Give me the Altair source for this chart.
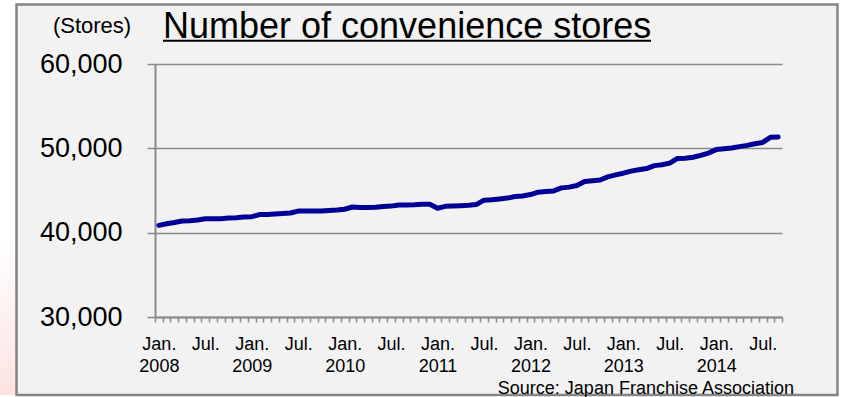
import altair as alt
import pandas as pd

years = [2008, 2009, 2010, 2011, 2012, 2013, 2014]
v2008 = [40870, 41050, 41200, 41380, 41420, 41500, 41650, 41660, 41660, 41740, 41760, 41850]
v2009 = [41900, 42140, 42160, 42210, 42260, 42330, 42560, 42560, 42570, 42580, 42640, 42680]
v2010 = [42780, 43040, 42980, 42990, 43010, 43090, 43150, 43290, 43290, 43310, 43360, 43370]
v2011 = [42900, 43120, 43150, 43200, 43250, 43330, 43850, 43900, 44000, 44100, 44280, 44350]
v2012 = [44520, 44800, 44880, 44950, 45310, 45400, 45600, 46070, 46150, 46250, 46620, 46850]
v2013 = [47050, 47300, 47450, 47600, 47950, 48050, 48250, 48800, 48830, 48950, 49160, 49440]
v2014 = [49850, 49950, 50030, 50200, 50350, 50550, 50700, 51300, 51350]
series = [v2008, v2009, v2010, v2011, v2012, v2013, v2014]

title_text = "Number of convenience stores"
unit_text = "(Stores)"
source_text = "Source: Japan Franchise Association"
y_ticks = [30000, 40000, 50000, 60000]

rows = []
for yr, vals in zip(years, series):
    for m, v in enumerate(vals):
        rows.append({"month": f"{yr}-{m + 1:02d}", "stores": v})
df = pd.DataFrame(rows)
order = list(df["month"])

FONT = "Liberation Sans, Arial, sans-serif"
GRID = "#8a8a8a"

label_expr = (
    "substring(datum.value,5,7)=='01' ? ['Jan.', substring(datum.value,0,4)] : "
    "(substring(datum.value,5,7)=='07' ? 'Jul.' : '')"
)

x_enc = alt.X(
    "month:O",
    sort=order,
    scale=alt.Scale(type="band", paddingInner=0, paddingOuter=0),
    axis=alt.Axis(
        title=None,
        labelExpr=label_expr,
        labelAngle=0,
        labelOverlap=False,
        labelBound=False,
        labelFont=FONT,
        labelFontSize=18,
        labelColor="#000000",
        labelLineHeight=22,
        labelPadding=13,
        labelBaseline="top",
        tickBand="extent",
        tickSize=5,
        tickColor=GRID,
        tickWidth=1.5,
        domainColor=GRID,
        domainWidth=2,
        grid=False,
    ),
)

y_enc = alt.Y(
    "stores:Q",
    scale=alt.Scale(domain=[30000, 60000], nice=False, zero=False),
    axis=alt.Axis(
        title=None,
        values=y_ticks,
        format=",d",
        labelFont=FONT,
        labelFontSize=27,
        labelColor="#000000",
        labelPadding=25,
        tickSize=8,
        tickColor=GRID,
        tickWidth=1.5,
        domainColor=GRID,
        domainWidth=2,
        grid=True,
        gridColor=GRID,
        gridWidth=1.5,
    ),
)

one = alt.Data(values=[{"a": 1}])

left_strip = alt.Chart(one).mark_rect(
    color=alt.Gradient(
        gradient="linear",
        stops=[
            alt.GradientStop(offset=0, color="#ffffff"),
            alt.GradientStop(offset=0.6, color="#ffffff"),
            alt.GradientStop(offset=1, color="#fde2e2"),
        ],
        x1=0, x2=0, y1=0, y2=1,
    )
).encode(x=alt.value(-155), x2=alt.value(-140), y=alt.value(-64), y2=alt.value(333))

top_strip = alt.Chart(one).mark_rect(color="#ffffff").encode(
    x=alt.value(-155), x2=alt.value(686), y=alt.value(-64), y2=alt.value(-60)
)
right_strip = alt.Chart(one).mark_rect(color="#ffffff").encode(
    x=alt.value(683), x2=alt.value(686), y=alt.value(-64), y2=alt.value(333)
)
bottom_strip = alt.Chart(one).mark_rect(color="#ffffff").encode(
    x=alt.value(-155), x2=alt.value(686), y=alt.value(331), y2=alt.value(333)
)

frame = alt.Chart(one).mark_rect(
    fillOpacity=0, stroke="#858585", strokeWidth=2.5
).encode(x=alt.value(-138.5), x2=alt.value(682.5), y=alt.value(-59.5), y2=alt.value(331))

line = alt.Chart(df).mark_line(
    color="#000096", strokeWidth=5, strokeCap="round", strokeJoin="round"
).encode(x=x_enc, y=y_enc)

title = alt.Chart(one).mark_text(
    text=title_text, font=FONT, fontSize=36, align="left", baseline="alphabetic", color="#000000"
).encode(x=alt.value(8), y=alt.value(-25.7))

underline = alt.Chart(one).mark_rule(color="#000000", strokeWidth=2).encode(
    x=alt.value(8), x2=alt.value(496), y=alt.value(-23.3)
)

unit = alt.Chart(one).mark_text(
    text=unit_text, font=FONT, fontSize=22, align="center", baseline="alphabetic", color="#000000"
).encode(x=alt.value(-63), y=alt.value(-31))

source = alt.Chart(one).mark_text(
    text=source_text, font=FONT, fontSize=18, align="right", baseline="alphabetic", color="#000000"
).encode(x=alt.value(639), y=alt.value(330))

chart = alt.layer(
    line, left_strip, top_strip, right_strip, bottom_strip, frame, title, underline, unit, source
).properties(
    width=627,
    height=253,
    background="#F2F2F2",
    padding={"left": 155, "top": 64, "right": 59, "bottom": 80},
    autosize=alt.AutoSizeParams(type="none"),
).configure_view(stroke=None)

chart.save("out.html", embed_options={"renderer": "svg", "actions": False})
